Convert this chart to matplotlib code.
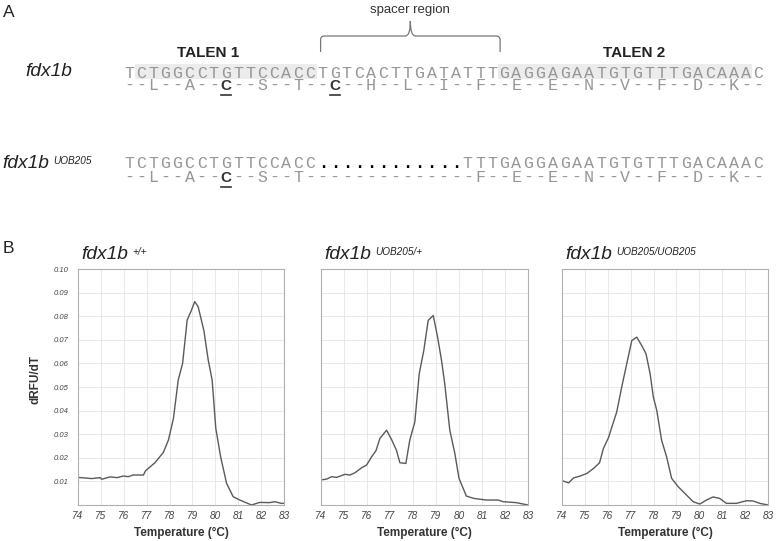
import numpy as np
import matplotlib.pyplot as plt
from matplotlib.patches import Rectangle, PathPatch
from matplotlib.path import Path

plt.rcParams['font.family'] = ['Liberation Sans', 'DejaVu Sans']

# sequences (panel A)
wt_seq = "TCTGGCCTGTTCCACCTGTCACTTGATATTTGAGGAGAATGTGTTTGACAAAC"
wt_aa = "--L--A--C--S--T--C--H--L--I--F--E--E--N--V--F--D--K--"
mut_seq = "TCTGGCCTGTTCCACC............TTTGAGGAGAATGTGTTTGACAAAC"
mut_aa = "--L--A--C--S--T--------------F--E--E--N--V--F--D--K--"
talen_sites = [(1, 15), (31, 51)]
talen_names = ["TALEN 1", "TALEN 2"]
spacer = (16, 30)
wt_bold = [8, 17]
mut_bold = [8]

# melt curves (panel B)
t_wt = [74.0, 74.6, 74.97, 75.04, 75.4, 75.7, 75.99, 76.2, 76.4, 76.86, 76.95, 77.37,
        77.73, 77.95, 78.17, 78.38, 78.57, 78.77, 78.96, 79.1, 79.25, 79.5, 79.69,
        79.86, 80.02, 80.23, 80.49, 80.78, 81.07, 81.58, 81.94, 82.37, 82.6, 82.88, 83.0]
d_wt = [0.0117, 0.0112, 0.0116, 0.0109, 0.0119, 0.0116, 0.0123, 0.012, 0.0127, 0.0127,
        0.0145, 0.018, 0.0223, 0.0275, 0.0367, 0.053, 0.060, 0.0784, 0.0826, 0.0862,
        0.084, 0.0739, 0.0614, 0.053, 0.0325, 0.0205, 0.0092, 0.0035, 0.0021, 0.0,
        0.0011, 0.001, 0.0014, 0.0007, 0.0007]

t_het = [74.0, 74.25, 74.46, 74.68, 75.04, 75.26, 75.48, 75.77, 75.98, 76.2, 76.39,
         76.56, 76.85, 77.07, 77.28, 77.43, 77.69, 77.86, 78.08, 78.27, 78.47, 78.66,
         78.88, 79.07, 79.24, 79.38, 79.6, 79.82, 80.0, 80.32, 80.64, 81.19, 81.7,
         81.92, 82.49, 83.0]
d_het = [0.0106, 0.011, 0.012, 0.0117, 0.013, 0.0127, 0.0137, 0.0158, 0.0169, 0.0204,
         0.023, 0.0282, 0.0317, 0.0277, 0.0232, 0.0179, 0.0176, 0.0275, 0.0352, 0.0556,
         0.0655, 0.0782, 0.0803, 0.0711, 0.0613, 0.0514, 0.0317, 0.0218, 0.0113,
         0.0038, 0.0028, 0.0021, 0.0021, 0.0014, 0.001, 0.0]

t_hom = [74.0, 74.29, 74.51, 74.8, 75.09, 75.38, 75.64, 75.81, 76.03, 76.18, 76.39,
         76.61, 76.83, 77.05, 77.27, 77.48, 77.67, 77.85, 77.99, 78.14, 78.35, 78.57,
         78.79, 79.08, 79.37, 79.73, 80.02, 80.31, 80.6, 80.89, 81.18, 81.62, 82.06,
         82.35, 82.64, 83.0]
d_hom = [0.0103, 0.0094, 0.0115, 0.0123, 0.0134, 0.0155, 0.0179, 0.024, 0.0285, 0.0331,
         0.0394, 0.05, 0.0599, 0.0697, 0.0711, 0.0676, 0.0641, 0.0556, 0.0458, 0.0401,
         0.0275, 0.0204, 0.0113, 0.0077, 0.0049, 0.0014, 0.0004, 0.0021, 0.0034,
         0.0028, 0.0007, 0.0007, 0.0018, 0.0017, 0.0007, 0.0]

curves = [(t_wt, d_wt), (t_het, d_het), (t_hom, d_hom)]
genotypes = ["+/+", "UOB205/+", "UOB205/UOB205"]
temp_ticks = list(range(74, 84))
dfdt_ticks = [0.01, 0.02, 0.03, 0.04, 0.05, 0.06, 0.07, 0.08, 0.09, 0.10]

W, H = 777, 541
fig = plt.figure(figsize=(W / 100, H / 100), dpi=100)

# overlay in pixel coordinates for panel A and labels
ov = fig.add_axes([0, 0, 1, 1])
ov.set_xlim(0, W)
ov.set_ylim(H, 0)
ov.axis('off')

mono = 'Liberation Mono'
x0, pitch = 123, 12.1
seq_col = '#969696'


def cx(i):
    return x0 + pitch * (i + 0.5)


# TALEN shading + names (names sit left of the shading centre, as in the figure)
name_x = [208, 634]
for (a, b), name, nx in zip(talen_sites, talen_names, name_x):
    ov.add_patch(Rectangle((x0 + pitch * a, 64), pitch * (b - a + 1), 15,
                           facecolor='#ececec', edgecolor='none', zorder=0))
    ov.text(nx, 57, name, fontsize=11, fontweight='bold',
            ha='center', va='baseline', color='#222')

# spacer brace
bl, br = x0 + pitch * spacer[0] + 4, x0 + pitch * (spacer[1] + 1) + 2
bc = (bl + br) / 2
hy, r = 36, 4
verts = [(bl, 52), (bl, hy + r), (bl, hy), (bl + r, hy), (bc - 5, hy), (bc, hy), (bc, 21),
         (bc, hy), (bc + 5, hy), (br - r, hy), (br, hy), (br, hy + r), (br, 52)]
codes = [Path.MOVETO, Path.LINETO, Path.CURVE3, Path.CURVE3, Path.LINETO, Path.CURVE3,
         Path.CURVE3, Path.CURVE3, Path.CURVE3, Path.LINETO, Path.CURVE3, Path.CURVE3,
         Path.LINETO]
ov.add_patch(PathPatch(Path(verts, codes), facecolor='none', edgecolor='#777', lw=0.9))
ov.text(bc, 12.5, "spacer region", fontsize=9.5, ha='center', va='baseline', color='#333')


def draw_row(seq, y, bold=()):
    for i, ch in enumerate(seq):
        if i in bold:
            ov.text(cx(i), y, ch, fontsize=11, fontweight='bold', ha='center',
                    va='baseline', color='#333')
            ov.plot([cx(i) - 5, cx(i) + 5], [y + 5, y + 5], color='#333', lw=1.2)
        elif ch == '.':
            ov.text(cx(i), y, ch, family=mono, fontsize=12, fontweight='bold',
                    ha='center', va='baseline', color='black')
        else:
            ov.text(cx(i), y, ch, family=mono, fontsize=12, ha='center',
                    va='baseline', color=seq_col)


draw_row(wt_seq, 77.5)
draw_row(wt_aa, 90, wt_bold)
draw_row(mut_seq, 168)
draw_row(mut_aa, 181.5, mut_bold)


def gene_label(x, y, sup):
    t = ov.text(x, y, "fdx1b", fontsize=13.8, style='italic', ha='left',
                va='baseline', color='#222')
    if sup:
        ov.annotate(sup, xy=(1, 0.93), xycoords=t, xytext=(3, 0),
                    textcoords='offset points', fontsize=7.2, style='italic',
                    ha='left', va='top', color='#222')


gene_label(25, 76, None)
gene_label(2, 168, "UOB205")

ov.text(3, 17, "A", fontsize=12.5, ha='left', va='baseline', color='#222')
ov.text(3, 253, "B", fontsize=12.5, ha='left', va='baseline', color='#222')

# panel B axes
lefts = [78, 321, 562]
widths = [206, 207, 206]
top, bottom = 269, 505
for k, ((t, d), g) in enumerate(zip(curves, genotypes)):
    ax = fig.add_axes([lefts[k] / W, 1 - bottom / H, widths[k] / W, (bottom - top) / H])
    ax.plot(t, d, color='#5a5a5a', lw=1.0)
    ax.set_xlim(74, 83)
    ax.set_ylim(0, 0.10)
    ax.set_xticks(temp_ticks)
    ax.set_yticks(dfdt_ticks)
    ax.grid(True, color='#e4e4e4', lw=0.6)
    ax.set_axisbelow(True)
    for s in ax.spines.values():
        s.set_color('#b0b0b0')
        s.set_linewidth(0.8)
    ax.tick_params(length=0, colors='#444')
    ax.tick_params(axis='x', labelsize=7.2, pad=4.5)
    ax.tick_params(axis='y', labelsize=5.5, pad=7)
    for lab in ax.get_xticklabels() + ax.get_yticklabels():
        lab.set_fontstyle('italic')
    if k > 0:
        ax.set_yticklabels([])
    else:
        ax.set_yticklabels([f"{v:.2f}" for v in dfdt_ticks])
        ax.set_ylabel("dRFU/dT", fontsize=8.5, fontweight='bold', color='#333')
        ax.yaxis.set_label_coords(-0.175, 0.53)
    ax.set_xlabel("Temperature (°C)", fontsize=8.5, fontweight='bold', color='#333')
    ax.xaxis.set_label_coords(0.5, -0.095)
    gene_label(lefts[k] + 3, 259, g)

fig.savefig("out.png", dpi=100)
